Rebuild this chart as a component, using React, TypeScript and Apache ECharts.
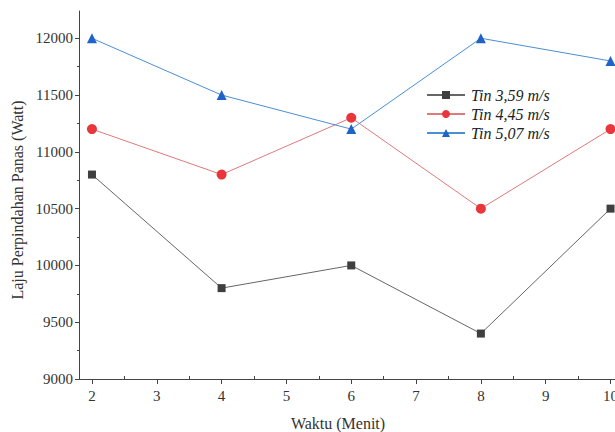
import React, { useEffect, useRef } from "react";
import * as echarts from "echarts";

const xValues = [2, 4, 6, 8, 10];
const seriesNames = ["Tin 3,59 m/s", "Tin 4,45 m/s", "Tin 5,07 m/s"];
const tin359 = [10800, 9800, 10000, 9400, 10500];
const tin445 = [11200, 10800, 11300, 10500, 11200];
const tin507 = [12000, 11500, 11200, 12000, 11800];
const yTicks = [9000, 9500, 10000, 10500, 11000, 11500, 12000];
const yMinorTicks = [9250, 9750, 10250, 10750, 11250, 11750];
const xTicks = [2, 3, 4, 5, 6, 7, 8, 9, 10];
const xMinorTicks = [2.5, 3.5, 4.5, 5.5, 6.5, 7.5, 8.5, 9.5];

const FONT = "Liberation Serif";

export default function App() {
  const ref = useRef<HTMLDivElement>(null);
  useEffect(() => {
    const chart = echarts.init(ref.current!, null, { renderer: "svg" });
    const axisColor = "#444";
    const mk = (vals: number[]) => vals.map((v, i) => [xValues[i], v]);
    chart.setOption({
      animation: false,
      backgroundColor: "#fff",
      textStyle: { fontFamily: FONT },
      grid: { left: 79, width: 538, top: 11, height: 368, outerBoundsMode: "none", containLabel: false },
      legend: {
        orient: "vertical",
        left: 421,
        top: 82,
        itemWidth: 38,
        itemHeight: 10,
        itemGap: 3,
        data: seriesNames,
        textStyle: { fontFamily: FONT, fontStyle: "italic", fontSize: 16, color: "#222", padding: [0, 0, 0, 1] },
      },
      xAxis: [
        {
          type: "value",
          min: 1.8,
          max: 10.1,
          axisLine: { show: true, lineStyle: { color: axisColor, width: 1 } },
          axisTick: { show: true, customValues: xTicks, length: 5, inside: false, lineStyle: { color: axisColor } },
          axisLabel: { customValues: xTicks, fontFamily: FONT, fontSize: 15, color: "#333", margin: 9, formatter: (v: number) => String(v) },
          splitLine: { show: false },
        },
        {
          type: "value",
          min: 1.8,
          max: 10.1,
          position: "bottom",
          axisLine: { show: false },
          axisTick: { show: true, customValues: xMinorTicks, length: 3, inside: true, lineStyle: { color: axisColor } },
          axisLabel: { show: false },
          splitLine: { show: false },
        },
      ],
      yAxis: [
        {
          type: "value",
          min: 9000,
          max: 12240,
          axisLine: { show: true, lineStyle: { color: axisColor, width: 1 } },
          axisTick: { show: true, customValues: yTicks, length: 4, lineStyle: { color: axisColor } },
          axisLabel: { customValues: yTicks, fontFamily: FONT, fontSize: 15, color: "#333", margin: 6, formatter: (v: number) => String(v) },
          splitLine: { show: false },
        },
        {
          type: "value",
          min: 9000,
          max: 12240,
          position: "left",
          axisLine: { show: false },
          axisTick: { show: true, customValues: yMinorTicks, length: 2, lineStyle: { color: axisColor } },
          axisLabel: { show: false },
          splitLine: { show: false },
        },
      ],
      graphic: [
        {
          type: "text",
          x: 338,
          y: 423,
          style: { text: "Waktu (Menit)", fontFamily: FONT, fontSize: 16, fill: "#333", textAlign: "center", textVerticalAlign: "middle" },
        },
        {
          type: "text",
          x: 17,
          y: 200,
          rotation: Math.PI / 2,
          style: { text: "Laju Perpindahan Panas (Watt)", fontFamily: FONT, fontSize: 16, fill: "#333", textAlign: "center", textVerticalAlign: "middle" },
        },
      ],
      series: [
        {
          name: seriesNames[0],
          type: "line",
          data: mk(tin359),
          symbol: "rect",
          symbolSize: 8,
          itemStyle: { color: "#3f3f3f" },
          lineStyle: { color: "#666", width: 1 },
        },
        {
          name: seriesNames[1],
          type: "line",
          data: mk(tin445),
          symbol: "circle",
          symbolSize: 10,
          itemStyle: { color: "#e8363b" },
          lineStyle: { color: "#dd7a7c", width: 1 },
        },
        {
          name: seriesNames[2],
          type: "line",
          data: mk(tin507),
          symbol: "triangle",
          symbolSize: 10,
          itemStyle: { color: "#1f63c9" },
          lineStyle: { color: "#4a8fd4", width: 1 },
        },
      ],
    });
    return () => chart.dispose();
  }, []);
  return <div ref={ref} style={{ width: 615, height: 432, position: "absolute", left: 0, top: 0 }} />;
}
